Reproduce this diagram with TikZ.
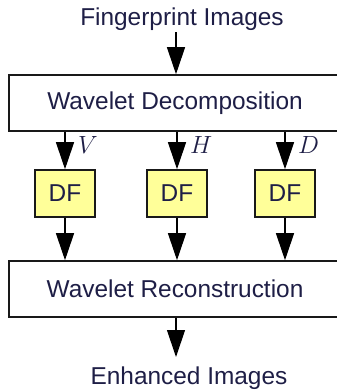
\documentclass[tikz,border=0pt]{standalone}
\usepackage{fontspec}
\setmainfont{Liberation Sans}
\usetikzlibrary{arrows.meta}
\definecolor{txt}{RGB}{30,30,70}
\definecolor{dfy}{RGB}{255,255,153}
\definecolor{edge}{RGB}{25,25,25}
\begin{document}
\begin{tikzpicture}[x=1pt,y=-1pt,
  every node/.style={font=\fontsize{24.4}{28}\selectfont, text=txt},
  bigbox/.style={draw=edge, line width=1.6pt, fill=white, minimum width=329pt, minimum height=56pt, inner sep=0pt},
  dfbox/.style={draw=edge, line width=1.6pt, fill=dfy, minimum width=60pt, minimum height=47pt, inner sep=0pt},
  flow/.style={draw=black, line width=1.2pt, -{Triangle[width=18pt,length=27pt]}},
  lbl/.style={font=\fontsize{25}{28}\selectfont, anchor=west, inner sep=0pt}
]
\useasboundingbox (0,0) rectangle (337,391);
\node (fp) at (182,19) {Fingerprint Images};
\coordinate (in) at (176,32);
\node[bigbox] (dec) at (173.5,103) {\hspace*{3pt}Wavelet Decomposition};
\node[dfbox] (df1) at (65,193.5) {DF};
\node[dfbox] (df2) at (177,193.5) {DF};
\node[dfbox] (df3) at (285,193.5) {DF};
\node[bigbox] (rec) at (173.5,289) {\hspace*{3pt}Wavelet Reconstruction};
\coordinate (out) at (176,357);
\node (en) at (189,378) {Enhanced Images};

\draw[flow] (in) -- (in |- dec.north);
\draw[flow] (dec.south -| df1) -- (df1.north);
\draw[flow] (dec.south -| df2) -- (df2.north);
\draw[flow] (dec.south -| df3) -- (df3.north);
\draw[flow] (df1.south) -- (rec.north -| df1);
\draw[flow] (df2.south) -- (rec.north -| df2);
\draw[flow] (df3.south) -- (rec.north -| df3);
\draw[flow] (rec.south -| out) -- (out);

\node[lbl] (v) at (78,145) {$V$};
\node[lbl] (h) at (190,145) {$H$};
\node[lbl] (d) at (298,145) {$D$};
\end{tikzpicture}
\end{document}
